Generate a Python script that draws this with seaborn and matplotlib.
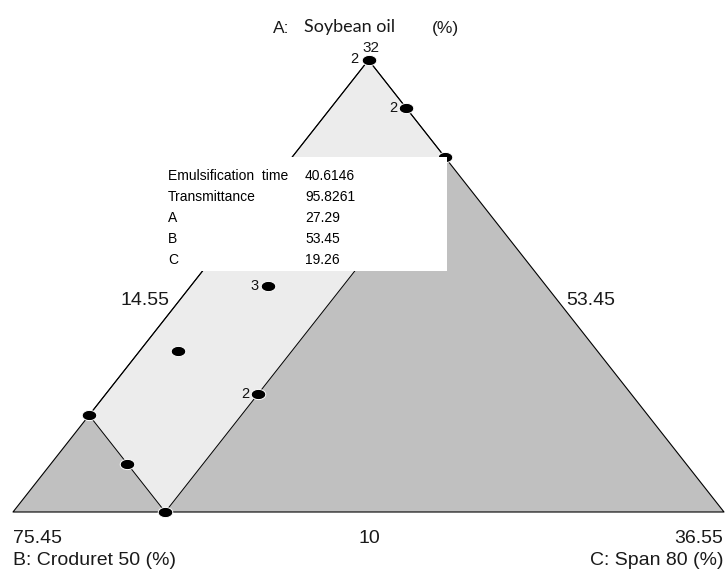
import numpy as np
import pandas as pd
import matplotlib
matplotlib.use('Agg')
import matplotlib.pyplot as plt
from matplotlib.path import Path
from matplotlib.patches import Rectangle
import seaborn as sns

# component limits (%): A = Soybean oil, B = Croduret 50, C = Span 80
comp_low = [10.0, 53.45, 14.55]
comp_high = [32.0, 75.45, 36.55]

# design points
pt_A = [32.0, 29.65, 27.29, 21.0, 17.86, 15.76, 14.71, 12.36, 10.0]
pt_B = [53.45, 53.45, 53.45, 62.07, 66.42, 64.98, 70.74, 70.74, 70.74]
pt_C = [14.55, 16.90, 19.26, 16.93, 15.72, 19.26, 14.55, 16.90, 19.26]
pt_reps = [2, 2, 1, 3, 1, 2, 1, 1, 1]

# overlay (feasible) region corners
reg_A = [32.0, 27.29, 10.0, 14.71]
reg_B = [53.45, 53.45, 70.74, 70.74]
reg_C = [14.55, 19.26, 19.26, 14.55]

# flag box
flag_names = ['Emulsification  time', 'Transmittance', 'A', 'B', 'C']
flag_values = ['40.6146', '95.8261', '27.29', '53.45', '19.26']

sns.set_theme(style='white')
plt.rcParams['font.family'] = ['Liberation Sans', 'DejaVu Sans']

span = comp_high[0] - comp_low[0]


def to_xy(a, b, c):
    a = (np.asarray(a, float) - comp_low[0]) / span
    c = (np.asarray(c, float) - comp_low[2]) / span
    return c + 0.5 * a, a


fig = plt.figure(figsize=(7.26, 5.69), dpi=100)
ax = fig.add_axes([0, 0, 1, 1])
ax.set_xlim(-13 / 711, 713 / 711)
ax.set_ylim(-57 / 452, 512 / 452)
ax.axis('off')

# whole simplex (dark = outside the overlay region)
tri_A = [comp_high[0], comp_low[0], comp_low[0]]
tri_B = [comp_low[1], comp_high[1], comp_low[1]]
tri_C = [comp_low[2], comp_low[2], comp_high[2]]
tx, ty = to_xy(tri_A, tri_B, tri_C)
ax.fill(tx, ty, color='#c0c0c0', lw=0, zorder=1)

rx, ry = to_xy(reg_A, reg_B, reg_C)
ax.fill(rx, ry, color='#ececec', lw=0, zorder=2)
ax.plot(np.append(rx, rx[0]), np.append(ry, ry[0]), color='black', lw=0.7, zorder=3)
ax.plot(np.append(tx, tx[0]), np.append(ty, ty[0]), color='black', lw=0.8, zorder=3)

# design points
px_, py_ = to_xy(pt_A, pt_B, pt_C)
df = pd.DataFrame({'x': px_, 'y': py_, 'reps': pt_reps})
theta = np.linspace(0, 2 * np.pi, 41)
ell = Path(np.column_stack([np.cos(theta), 0.7 * np.sin(theta)]), closed=True)
sns.scatterplot(data=df, x='x', y='y', marker=ell, s=110, color='black',
                edgecolor='white', linewidth=0.7, zorder=4, ax=ax, legend=False)


def fx(p):
    return p / 726


def fy(p):
    return 1 - p / 569


# replicate counts beside points
for x, y, r in zip(df['x'], df['y'], df['reps']):
    if r > 1 and y < 0.9:
        ax.annotate(str(r), (x, y), xytext=(-6.5, -3), textcoords='offset points',
                    ha='right', va='baseline', fontsize=10.5, color='#111111', zorder=6)
fig.text(fx(358), fy(63), '2', ha='right', va='baseline', fontsize=10.5, color='#111111')

# flag box
ax.add_patch(Rectangle((fx(163), fy(271)), fx(447) - fx(163), fy(157) - fy(271),
                       transform=fig.transFigure, facecolor='white', edgecolor='none', zorder=5))
for i, (n, v) in enumerate(zip(flag_names, flag_values)):
    yb = 180 + i * 21
    fig.text(fx(168), fy(yb), n, ha='left', va='baseline', fontsize=10, color='black', zorder=6)
    fig.text(fx(305), fy(yb), v, ha='left', va='baseline', fontsize=10, color='black', zorder=6)

# axis titles and limits
tc = '#1a1a1a'
fig.text(fx(273), fy(33), 'A:', ha='left', va='baseline', fontsize=12.5, color=tc)
fig.text(fx(304), fy(32), 'Soybean oil', ha='left', va='baseline', fontsize=13,
         color=tc, family=['Lato', 'DejaVu Sans'])
fig.text(fx(432), fy(33), '(%)', ha='left', va='baseline', fontsize=12.5, color=tc)
fig.text(fx(371), fy(52), '%g' % comp_high[0], ha='center', va='baseline', fontsize=11, color=tc)

fig.text(fx(145), fy(305), '%.2f' % comp_low[2], ha='center', va='baseline', fontsize=14, color=tc)
fig.text(fx(591), fy(305), '%.2f' % comp_low[1], ha='center', va='baseline', fontsize=14, color=tc)
fig.text(fx(13), fy(543), '%.2f' % comp_high[1], ha='left', va='baseline', fontsize=14, color=tc)
fig.text(fx(369), fy(543), '%g' % comp_low[0], ha='center', va='baseline', fontsize=14, color=tc)
fig.text(fx(723), fy(543), '%.2f' % comp_high[2], ha='right', va='baseline', fontsize=14, color=tc)
fig.text(fx(13), fy(565), 'B: Croduret 50 (%)', ha='left', va='baseline', fontsize=14, color=tc)
fig.text(fx(723), fy(565), 'C: Span 80 (%)', ha='right', va='baseline', fontsize=14, color=tc)

fig.savefig('out.png', dpi=100, facecolor='white')
plt.close(fig)
